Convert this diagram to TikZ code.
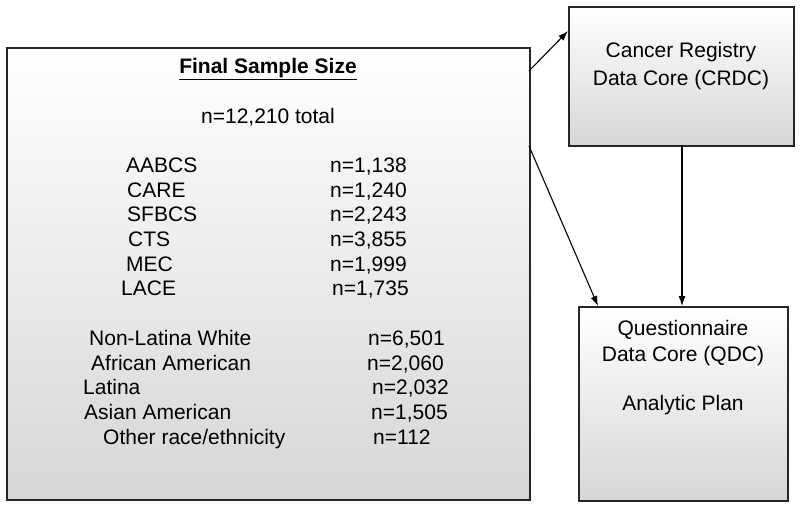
\documentclass[tikz,border=0pt]{standalone}
\usepackage{fontspec}
\setmainfont{Liberation Sans}
\usetikzlibrary{arrows.meta}
\tikzset{
  panel/.style={draw=black!85, line width=1.6pt, top color=white, bottom color=black!16, rectangle, inner sep=0pt, anchor=north west},
  txt/.style={inner sep=0pt, font=\fontsize{21}{24}\selectfont},
  lt/.style={txt, anchor=base west},
  ct/.style={txt, anchor=base},
  arr/.style={line width=1.1pt, -{Latex[length=10pt,width=7pt]}}
}
\begin{document}
\begin{tikzpicture}[x=1pt,y=-1pt]
\useasboundingbox (0,0) rectangle (800,506);
\node[panel, minimum width=523pt, minimum height=452pt] (main) at (6,47) {};
\node[panel, minimum width=225pt, minimum height=139pt] (crdc) at (568,6) {};
\node[panel, minimum width=209pt, minimum height=194pt] (qdc) at (578,306) {};
% main box text
\node[ct, font=\fontsize{21}{24}\selectfont\bfseries] (title) at (268,73) {\underline{Final Sample Size}};
\node[ct] (tot) at (268,123) {n=12,210 total};
\node[lt] (s1) at (126,172) {AABCS};   \node[lt] (v1) at (330,172) {n=1,138};
\node[lt] (s2) at (127,197) {CARE};    \node[lt] (v2) at (330,197) {n=1,240};
\node[lt] (s3) at (127,221) {SFBCS};   \node[lt] (v3) at (330,221) {n=2,243};
\node[lt] (s4) at (128,246) {CTS};     \node[lt] (v4) at (330,246) {n=3,855};
\node[lt] (s5) at (126,271) {MEC};     \node[lt] (v5) at (330,271) {n=1,999};
\node[lt] (s6) at (121,295) {LACE};    \node[lt] (v6) at (332,295) {n=1,735};
\node[lt] (r1) at (89,345) {Non-Latina White};    \node[lt] (w1) at (368,345) {n=6,501};
\node[lt] (r2) at (91,370) {African American};    \node[lt] (w2) at (367,370) {n=2,060};
\node[lt] (r3) at (83,394) {Latina};              \node[lt] (w3) at (372,394) {n=2,032};
\node[lt] (r4) at (84,419) {Asian American};      \node[lt] (w4) at (371,419) {n=1,505};
\node[lt] (r5) at (103,444) {Other race/ethnicity}; \node[lt] (w5) at (373,444) {n=112};
% CRDC text
\node[ct] (c1) at (681,57) {Cancer Registry};
\node[ct] (c2) at (681,85) {Data Core (CRDC)};
% QDC text
\node[ct] (q1) at (683,335) {Questionnaire};
\node[ct] (q2) at (683,361) {Data Core (QDC)};
\node[ct] (q3) at (683,410) {Analytic Plan};
% connectors
\coordinate (m1) at (529,71);
\coordinate (m2) at (529,146);
\coordinate (t1) at (568,31);
\coordinate (t2) at (598,306);
\coordinate (b1) at (682,145);
\coordinate (b2) at (682,306);
\draw[arr] (m1) -- (t1);
\draw[arr] (m2) -- (t2);
\draw[arr] (b1) -- (b2);
\end{tikzpicture}
\end{document}
